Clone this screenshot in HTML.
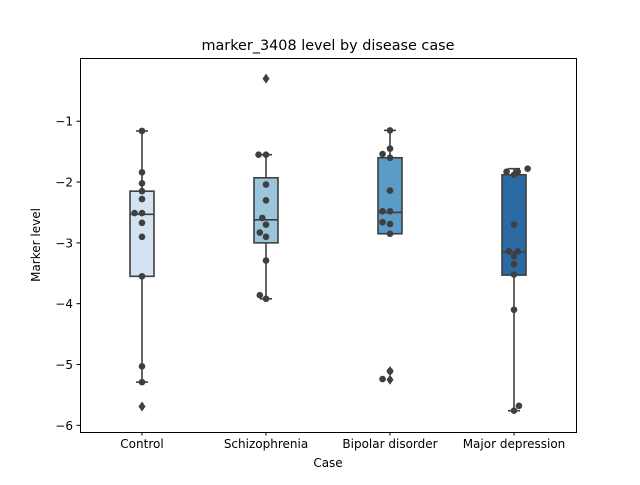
<!DOCTYPE html>
<html><head><meta charset="utf-8"><style>
body{margin:0;background:#fff;}
svg text{font-family:"DejaVu Sans","Liberation Sans",sans-serif;fill:#000;}
</style></head><body>
<svg id="chart" width="640" height="480" xmlns="http://www.w3.org/2000/svg">
<rect width="640" height="480" fill="#fff"/>
<text x="328" y="50" font-size="14.4" text-anchor="middle">marker_3408 level by disease case</text>
<g id="plot"></g>
<rect x="80.5" y="58.5" width="496" height="374" fill="none" stroke="#000" stroke-width="1"/>
<text x="328" y="467" font-size="12" text-anchor="middle">Case</text>
<text transform="translate(40,245) rotate(-90)" font-size="12" text-anchor="middle">Marker level</text>
</svg>
<script>
const categories = ["Control","Schizophrenia","Bipolar disorder","Major depression"];
const fills = ["#d4e3f1","#9ac5db","#5a9bc7","#2c6aa4"];
const q1 = [-3.55,-3.0,-2.85,-3.53];
const median = [-2.53,-2.62,-2.50,-3.15];
const q3 = [-2.15,-1.93,-1.60,-1.88];
const whiskerLow = [-5.29,-3.92,-2.85,-5.76];
const whiskerHigh = [-1.16,-1.55,-1.15,-1.78];
const outliers = [[-5.69],[-0.30],[-5.11,-5.25],[]];
const points = [
 [-1.16,-1.84,-2.02,-2.15,-2.28,-2.51,-2.51,-2.67,-2.90,-3.55,-5.03,-5.29],
 [-1.55,-1.55,-2.04,-2.30,-2.59,-2.70,-2.83,-2.90,-3.29,-3.86,-3.92],
 [-1.15,-1.45,-1.54,-1.60,-2.14,-2.48,-2.48,-2.66,-2.69,-2.85,-5.11,-5.24],
 [-1.83,-1.83,-1.78,-1.88,-2.70,-3.14,-3.14,-3.22,-3.35,-3.52,-4.10,-5.68,-5.76]
];
const jitter = [
 [0,0,0,0,0,-0.06,0,0,0,0,0,0],
 [-0.06,0,0,0,-0.03,0,-0.05,0,0,-0.05,0],
 [0,0,-0.06,0,0,-0.06,0,-0.06,0,0,0,-0.06],
 [-0.06,0.03,0.11,0,0,-0.04,0.03,0,0,0,0,0.04,0]
];
const yTicks = [-1,-2,-3,-4,-5,-6];
const plotLeft=80, plotRight=576, plotTop=58, plotBottom=432;
const yMin=-6.11, yMax=0.04;
const band=(plotRight-plotLeft)/categories.length;
const xs = i => plotLeft + band*(i+0.5);
const ys = v => plotTop + (yMax - v)/(yMax - yMin)*(plotBottom-plotTop);
const NS="http://www.w3.org/2000/svg";
const plotG=document.getElementById('plot');
const svgRoot=document.getElementById('chart');
function mk(tag,attrs,parent){const e=document.createElementNS(NS,tag);for(const k in attrs)e.setAttribute(k,attrs[k]);(parent||plotG).appendChild(e);return e;}
const edge="#3f3f3f", bw=24;
yTicks.forEach(t=>{
 const ln=mk('line',{x1:plotLeft-3.5,x2:plotLeft,y1:ys(t),y2:ys(t),stroke:'#000'},svgRoot);
 
 
 const tx=mk('text',{x:plotLeft-7,y:ys(t)+4.5,'font-size':12,'text-anchor':'end'},svgRoot);
 tx.textContent='\u2212'+Math.abs(t);
 
 
});
categories.forEach((c,i)=>{
 const cx=xs(i);
 const tk=mk('line',{x1:cx,x2:cx,y1:plotBottom,y2:plotBottom+3.5,stroke:'#000'},svgRoot);
 
 
 const tx=mk('text',{x:cx,y:plotBottom+16,'font-size':12,'text-anchor':'middle'},svgRoot);
 tx.textContent=c;
 
 
 const wl=mk('line',{x1:cx,x2:cx,y1:ys(whiskerHigh[i]),y2:ys(q3[i]),stroke:edge,'stroke-width':1.6});
 
 
 const wl2=mk('line',{x1:cx,x2:cx,y1:ys(q1[i]),y2:ys(whiskerLow[i]),stroke:edge,'stroke-width':1.6});
 
 
 [whiskerHigh[i],whiskerLow[i]].forEach(v=>{
  const cap=mk('line',{x1:cx-6,x2:cx+6,y1:ys(v),y2:ys(v),stroke:edge,'stroke-width':1.6});
  
  
 });
 const b=mk('rect',{x:cx-bw/2,y:ys(q3[i]),width:bw,height:ys(q1[i])-ys(q3[i]),fill:fills[i],stroke:edge,'stroke-width':1.6});
 
 
 const m=mk('line',{x1:cx-bw/2,x2:cx+bw/2,y1:ys(median[i]),y2:ys(median[i]),stroke:edge,'stroke-width':1.6});
 
 
 outliers[i].forEach(v=>{
  const yy=ys(v);
  const d=mk('polygon',{points:`${cx},${yy-5} ${cx+3.5},${yy} ${cx},${yy+5} ${cx-3.5},${yy}`,fill:edge});
  
  
 });
 points[i].forEach((v,j)=>{
  const p=mk('circle',{cx:cx+jitter[i][j]*band,cy:ys(v),r:3.3,fill:edge});
  
  
 });
});
</script>
</body></html>
